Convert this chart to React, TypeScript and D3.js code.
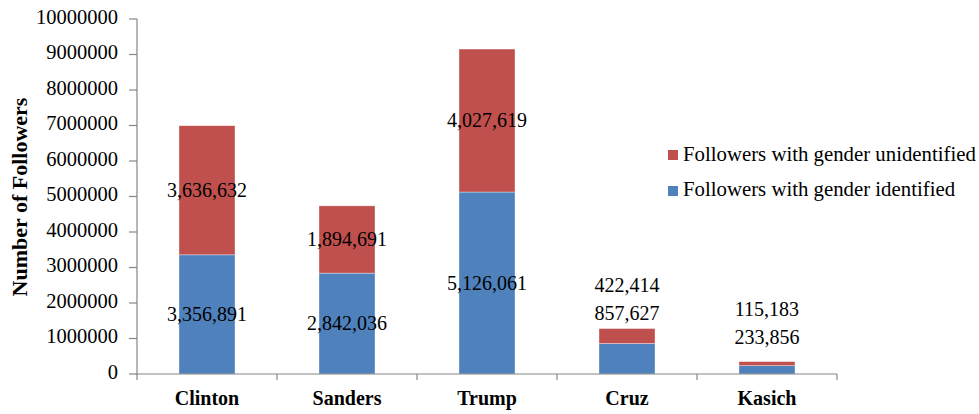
import React from "react";
import * as d3 from "d3";

const categories = ["Clinton", "Sanders", "Trump", "Cruz", "Kasich"];
const identified = [3356891, 2842036, 5126061, 857627, 233856];
const unidentified = [3636632, 1894691, 4027619, 422414, 115183];
const yTicks = [0, 1000000, 2000000, 3000000, 4000000, 5000000, 6000000, 7000000, 8000000, 9000000, 10000000];
const seriesNames = ["Followers with gender identified", "Followers with gender unidentified"];

const W = 979;
const H = 414;
const BLUE = "#4F81BD";
const RED = "#C0504D";
const AXIS = "#868686";
const FONT = "'Liberation Serif', 'Times New Roman', serif";

// label placement for small bars (pixels above bar top)
const outsideLift: Record<string, number> = { Cruz: 13, Kasich: 22 };

const T = (props: any) => <text {...props} style={{ fontFamily: FONT }} fill="#000" />;

export default function App() {
  const x = d3.scaleBand<string>().domain(categories).range([137, 837]).paddingInner(0.6).paddingOuter(0.3);
  const y = d3.scaleLinear().domain([0, 10000000]).range([374, 19]);
  const fmt = d3.format(",");
  const step = x.step();

  return (
    <svg width={W} height={H} style={{ position: "absolute", left: 0, top: 0, background: "#fff" }}>
      {categories.map((c, i) => {
        const x0 = x(c)!;
        const bw = x.bandwidth();
        const b0 = y(0);
        const b1 = y(identified[i]);
        const r1 = y(identified[i] + unidentified[i]);
        const cx = x0 + bw / 2;
        const lift = outsideLift[c];
        return (
          <g key={c}>
            <rect x={x0} y={b1} width={bw} height={b0 - b1} fill={BLUE} stroke="#fff" strokeOpacity={0.6} strokeWidth={0.6} />
            <rect x={x0} y={r1} width={bw} height={b1 - r1} fill={RED} stroke="#fff" strokeOpacity={0.6} strokeWidth={0.6} />
            {lift === undefined ? (
              <>
                <T x={cx} y={(b0 + b1) / 2 + 2} textAnchor="middle" dominantBaseline="middle" fontSize={20}>
                  {fmt(identified[i])}
                </T>
                <T x={cx} y={(b1 + r1) / 2 + 2} textAnchor="middle" dominantBaseline="middle" fontSize={20}>
                  {fmt(unidentified[i])}
                </T>
              </>
            ) : (
              <>
                <T x={cx} y={r1 - lift} textAnchor="middle" dominantBaseline="middle" fontSize={20}>
                  {fmt(identified[i])}
                </T>
                <T x={cx} y={r1 - lift - 28} textAnchor="middle" dominantBaseline="middle" fontSize={20}>
                  {fmt(unidentified[i])}
                </T>
              </>
            )}
          </g>
        );
      })}

      <line x1={137} x2={137} y1={y(10000000)} y2={y(0) + 1} stroke={AXIS} strokeWidth={1.2} />
      {yTicks.map((t) => (
        <g key={t}>
          <line x1={129} x2={137} y1={y(t)} y2={y(t)} stroke={AXIS} strokeWidth={1.2} />
          <T x={118} y={y(t)} textAnchor="end" dominantBaseline="middle" fontSize={20.5}>
            {t}
          </T>
        </g>
      ))}

      <line x1={137} x2={837} y1={y(0)} y2={y(0)} stroke={AXIS} strokeWidth={1.2} />
      {d3.range(categories.length + 1).map((k) => (
        <line key={k} x1={137 + k * step} x2={137 + k * step} y1={y(0)} y2={y(0) + 6} stroke={AXIS} strokeWidth={1.2} />
      ))}
      {categories.map((c) => (
        <T key={c} x={x(c)! + x.bandwidth() / 2} y={405} textAnchor="middle" fontSize={20} fontWeight="bold">
          {c}
        </T>
      ))}

      <T transform={`translate(27,197) rotate(-90)`} textAnchor="middle" fontSize={22} fontWeight="bold">
        Number of Followers
      </T>

      <g>
        <rect x={668} y={150} width={10} height={10} fill={RED} />
        <T x={683} y={156} dominantBaseline="middle" fontSize={20.8}>
          {seriesNames[1]}
        </T>
        <rect x={668} y={186} width={10} height={10} fill={BLUE} />
        <T x={683} y={191} dominantBaseline="middle" fontSize={20.8}>
          {seriesNames[0]}
        </T>
      </g>
    </svg>
  );
}
